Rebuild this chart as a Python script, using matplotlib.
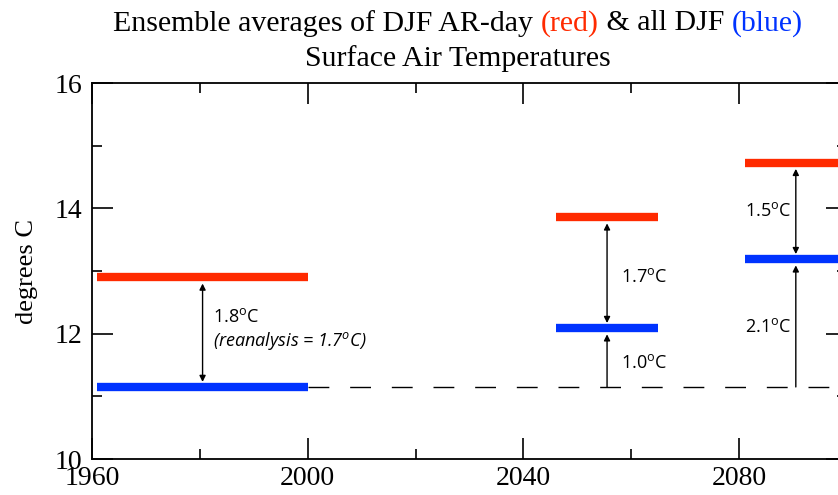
import matplotlib
matplotlib.use('Agg')
import matplotlib.pyplot as plt
from matplotlib.ticker import MultipleLocator

# Ensemble means (degrees C)
periods = [(1961, 2000), (2046, 2065), (2081, 2100)]
ar_day = [12.9, 13.86, 14.73]      # red
all_djf = [11.15, 12.09, 13.19]    # blue
baseline = all_djf[0]
gap_labels = ['1.8$^{\\rm o}$C', '1.7$^{\\rm o}$C', '1.5$^{\\rm o}$C']
rise_labels = [None, '1.0$^{\\rm o}$C', '2.1$^{\\rm o}$C']

plt.rcParams['mathtext.fontset'] = 'custom'
plt.rcParams['mathtext.rm'] = 'Open Sans'
plt.rcParams['mathtext.it'] = 'Open Sans:italic'

serif = 'Liberation Serif'
red = '#ff2a00'
blue = '#0033ff'

fig = plt.figure(figsize=(8.38, 4.95), dpi=100)
# axes run on past the right edge of the picture (up to 2100)
ax = fig.add_axes([0.1098, 0.0727, 0.901, 0.7596])
ax.set_xlim(1960, 2100)
ax.set_ylim(10, 16)

for (x0, x1), r, b in zip(periods, ar_day, all_djf):
    ax.plot([x0, x1], [r, r], color=red, lw=6, solid_capstyle='butt', zorder=3)
    ax.plot([x0, x1], [b, b], color=blue, lw=6, solid_capstyle='butt', zorder=3)

ax.plot([periods[0][1], 2100], [baseline, baseline], color='black', lw=1.0,
        dashes=(15, 15), zorder=2)

arrow = dict(arrowstyle='<|-|>', color='black', lw=1.0, mutation_scale=9,
             shrinkA=0, shrinkB=0)
uparrow = dict(arrowstyle='-|>', color='black', lw=1.0, mutation_scale=9,
               shrinkA=0, shrinkB=0)
for i, ((x0, x1), r, b) in enumerate(zip(periods, ar_day, all_djf)):
    xm = (x0 + x1) / 2.0
    ax.annotate('', xy=(xm, r - 0.1), xytext=(xm, b + 0.08), arrowprops=arrow)
    if i > 0:
        ax.annotate('', xy=(xm, b - 0.1), xytext=(xm, baseline), arrowprops=uparrow)

txt = dict(fontsize=13, family='Open Sans', va='center')
ax.text(1982.5, 12.26, gap_labels[0], ha='left', **txt)
ax.text(1982.5, 11.89, '(reanalysis = 1.7$^{\\mathit{o}}$C)', ha='left',
        style='italic', **txt)
ax.text(2058.0, 12.9, gap_labels[1], ha='left', **txt)
ax.text(2058.0, 11.54, rise_labels[1], ha='left', **txt)
ax.text(2089.6, 13.95, gap_labels[2], ha='right', **txt)
ax.text(2089.6, 12.11, rise_labels[2], ha='right', **txt)

ax.xaxis.set_major_locator(MultipleLocator(40))
ax.xaxis.set_minor_locator(MultipleLocator(20))
ax.yaxis.set_major_locator(MultipleLocator(2))
ax.yaxis.set_minor_locator(MultipleLocator(1))
ax.tick_params(which='both', direction='in', top=True, right=True, width=1.2)
ax.tick_params(which='major', length=15, labelsize=20)
ax.tick_params(which='minor', length=7)
ax.tick_params(axis='y', pad=7)
ax.tick_params(axis='x', pad=5)
for lab in ax.get_xticklabels() + ax.get_yticklabels():
    lab.set_family(serif)
for s in ax.spines.values():
    s.set_linewidth(1.3)

ax.set_ylabel('degrees C', family=serif, fontsize=19, labelpad=12)

# two-line title, first line with coloured words
parts = [('Ensemble averages of DJF AR-day ', 'black'), ('(red)', red),
         (' & all DJF ', 'black'), ('(blue)', blue)]
renderer = fig.canvas.get_renderer()
pieces = []
total = 0.0
for s, c in parts:
    t = fig.text(0, 0.953, s, color=c, family=serif, fontsize=21.5, va='center')
    w = t.get_window_extent(renderer).width
    pieces.append((t, w))
    total += w
figw = fig.get_figwidth() * fig.dpi
x = 458 - total / 2.0
for t, w in pieces:
    t.set_x(x / figw)
    x += w
fig.text(458 / figw, 0.882, 'Surface Air Temperatures', family=serif,
         fontsize=21.5, ha='center', va='center')

fig.savefig('out.png', dpi=100)
